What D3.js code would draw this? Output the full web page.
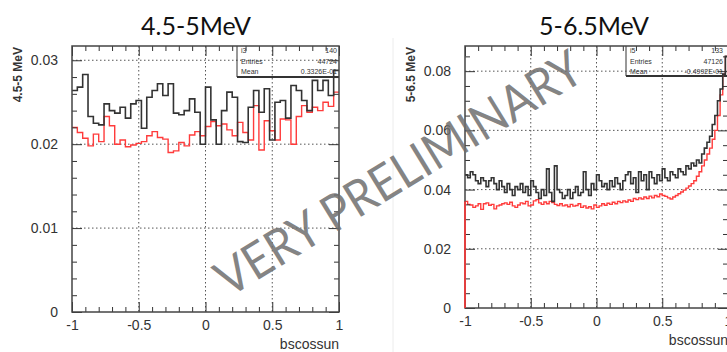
<!DOCTYPE html>
<html>
<head>
<meta charset="utf-8">
<script src="https://cdn.jsdelivr.net/npm/d3@7"></script>
<style>
  body { margin: 0; background: #fff; }
  svg { display: block; }
</style>
</head>
<body>
<div id="chart"></div>
<script>
// bin contents, 50 bins over [-1, 1] for 4.5-5 MeV
const lowBlack = [
  0.0264, 0.0268, 0.0283, 0.0233, 0.0225, 0.0223, 0.0248, 0.0240, 0.0237, 0.0244,
  0.0231, 0.0248, 0.0252, 0.0219, 0.0256, 0.0264, 0.0272, 0.0258, 0.0272, 0.0237,
  0.0235, 0.0240, 0.0254, 0.0238, 0.0200, 0.0268, 0.0229, 0.0200, 0.0240, 0.0262,
  0.0256, 0.0203, 0.0202, 0.0244, 0.0264, 0.0238, 0.0266, 0.0205, 0.0250, 0.0252,
  0.0231, 0.0270, 0.0264, 0.0252, 0.0240, 0.0276, 0.0264, 0.0276, 0.0258, 0.0288
];
const lowRed = [
  0.0220, 0.0214, 0.0207, 0.0198, 0.0212, 0.0203, 0.0233, 0.0222, 0.0200, 0.0205,
  0.0197, 0.0199, 0.0201, 0.0203, 0.0210, 0.0215, 0.0208, 0.0206, 0.0190, 0.0192,
  0.0202, 0.0198, 0.0211, 0.0215, 0.0210, 0.0221, 0.0227, 0.0222, 0.0224, 0.0217,
  0.0210, 0.0226, 0.0214, 0.0205, 0.0246, 0.0193, 0.0228, 0.0216, 0.0205, 0.0230,
  0.0229, 0.0200, 0.0233, 0.0246, 0.0238, 0.0244, 0.0240, 0.0250, 0.0245, 0.0262
];
// 100 bins over [-1, 1] for 5-6.5 MeV
const highBlack = [
  0.045, 0.044, 0.046, 0.045, 0.043, 0.042, 0.044, 0.043, 0.041, 0.043,
  0.044, 0.042, 0.040, 0.043, 0.041, 0.039, 0.042, 0.040, 0.038, 0.041,
  0.040, 0.042, 0.039, 0.041, 0.038, 0.043, 0.041, 0.039, 0.037, 0.040,
  0.038, 0.047, 0.039, 0.036, 0.048, 0.040, 0.039, 0.037, 0.038, 0.040,
  0.037, 0.039, 0.041, 0.038, 0.039, 0.046, 0.040, 0.038, 0.042, 0.040,
  0.045, 0.043, 0.041, 0.042, 0.040, 0.043, 0.041, 0.044, 0.042, 0.040,
  0.043, 0.045, 0.046, 0.042, 0.044, 0.039, 0.046, 0.043, 0.045, 0.040,
  0.046, 0.044, 0.042, 0.045, 0.043, 0.047, 0.044, 0.043, 0.046, 0.045,
  0.044, 0.047, 0.046, 0.045, 0.048, 0.047, 0.049, 0.048, 0.050, 0.049,
  0.052, 0.054, 0.056, 0.058, 0.062, 0.065, 0.070, 0.074, 0.079, 0.085
];
const highRed = [
  0.0360, 0.0350, 0.0348, 0.0340, 0.0345, 0.0352, 0.0333, 0.0352, 0.0355, 0.0347,
  0.0350, 0.0335, 0.0345, 0.0348, 0.0352, 0.0355, 0.0350, 0.0357, 0.0345, 0.0340,
  0.0348, 0.0355, 0.0352, 0.0360, 0.0345, 0.0348, 0.0362, 0.0366, 0.0355, 0.0350,
  0.0358, 0.0352, 0.0360, 0.0356, 0.0350, 0.0346, 0.0352, 0.0345, 0.0348, 0.0342,
  0.0350, 0.0344, 0.0346, 0.0352, 0.0340, 0.0345, 0.0338, 0.0342, 0.0335, 0.0348,
  0.0340, 0.0345, 0.0352, 0.0347, 0.0354, 0.0350, 0.0357, 0.0352, 0.0360, 0.0356,
  0.0362, 0.0358, 0.0365, 0.0360, 0.0370, 0.0366, 0.0372, 0.0368, 0.0375, 0.0370,
  0.0378, 0.0372, 0.0380, 0.0376, 0.0385, 0.0380, 0.0377, 0.0372, 0.0368, 0.0375,
  0.0380, 0.0386, 0.0392, 0.0398, 0.0405, 0.0412, 0.0420, 0.0430, 0.0445, 0.0460,
  0.0480, 0.0500, 0.0520, 0.0540, 0.0570, 0.0600, 0.0650, 0.0720, 0.0790, 0.0850
];

const xMajor = [-1, -0.5, 0, 0.5, 1];
const xGrid = [-0.5, 0, 0.5];
const lowYTicks = [0, 0.01, 0.02, 0.03];
const highYTicks = [0, 0.02, 0.04, 0.06, 0.08];
const lowStats = [['i3', '140'], ['Entries', '44724'], ['Mean', '0.3326E-01']];
const highStats = [['i5', '133'], ['Entries', '47126'], ['Mean', '-0.4992E-01']];

const W = 727, H = 352;
const svg = d3.select('#chart').append('svg').attr('width', W).attr('height', H);

// faint pad border between the two pictures
svg.append('line').attr('x1', 393).attr('x2', 393).attr('y1', 38).attr('y2', H)
  .attr('stroke', '#ececec').attr('stroke-width', 1);

const fmtY = d => (d === 0 ? '0' : d.toFixed(2));

const drawPanel = (opt) => {
  const { left, right, top, bottom, yMax, yTicks, yMinorStep, title, titleX, yTitle, yTitleX,
    black, red, redFromZero, stats, statsBox } = opt;

  const x = d3.scaleLinear().domain([-1, 1]).range([left, right]);
  const y = d3.scaleLinear().domain([0, yMax]).range([bottom, top]);
  const g = svg.append('g');

  // grid
  g.selectAll('.vg').data(xGrid).enter().append('line')
    .attr('x1', d => x(d)).attr('x2', d => x(d)).attr('y1', top).attr('y2', bottom)
    .attr('stroke', '#555').attr('stroke-width', 1).attr('stroke-dasharray', '1.5,2.5');
  g.selectAll('.hg').data(yTicks.filter(d => d > 0)).enter().append('line')
    .attr('x1', left).attr('x2', right).attr('y1', d => y(d)).attr('y2', d => y(d))
    .attr('stroke', '#555').attr('stroke-width', 1).attr('stroke-dasharray', '1.5,2.5');

  // stat box (transparent, grid shows through)
  const sb = g.append('g');
  sb.append('line').attr('x1', statsBox[0]).attr('x2', statsBox[0]).attr('y1', top).attr('y2', statsBox[1])
    .attr('stroke', '#333').attr('stroke-width', 1);
  sb.append('line').attr('x1', statsBox[0]).attr('x2', right).attr('y1', statsBox[1]).attr('y2', statsBox[1])
    .attr('stroke', '#333').attr('stroke-width', 2);
  stats.forEach((row, i) => {
    const ty = top + 7 + i * 10.5;
    sb.append('text').attr('x', statsBox[0] + 4).attr('y', ty).text(row[0])
      .attr('font-family', 'Liberation Sans, Arial').attr('font-size', 7).attr('fill', '#333');
    sb.append('text').attr('x', statsBox[2]).attr('y', ty).attr('text-anchor', 'end').text(row[1])
      .attr('font-family', 'Liberation Sans, Arial').attr('font-size', 7).attr('fill', '#333');
  });

  // histograms as steps
  const n = black.length;
  const edges = d3.range(n + 1).map(i => -1 + (2 * i) / n);
  const step = d3.line().x(d => x(d[0])).y(d => y(d[1])).curve(d3.curveStepAfter);
  const pts = (vals, fromZero) => {
    const p = vals.map((v, i) => [edges[i], v]);
    p.push([1, vals[n - 1]]);
    if (fromZero) p.unshift([-1, 0]);
    return p;
  };
  g.append('path').attr('d', step(pts(red, redFromZero))).attr('fill', 'none')
    .attr('stroke', '#ff3b3b').attr('stroke-width', 1.4);
  g.append('path').attr('d', step(pts(black, false))).attr('fill', 'none')
    .attr('stroke', '#333').attr('stroke-width', 1.6);

  // ticks (inside the frame, ROOT style)
  const xMinor = d3.range(-10, 11).map(i => i / 10).filter(d => !xMajor.includes(d));
  const yMinor = d3.range(0, yMax + 1e-9, yMinorStep).filter(d => !yTicks.some(t => Math.abs(t - d) < 1e-9));
  const axisStyle = sel => {
    sel.select('.domain').remove();
    sel.selectAll('line').attr('stroke', '#333');
    sel.selectAll('text').attr('font-family', 'Liberation Sans, Arial').attr('font-size', 14).attr('fill', '#333');
  };

  g.append('g').attr('transform', `translate(0,${bottom})`)
    .call(d3.axisBottom(x).tickValues(xMajor).tickSize(-10).tickPadding(8).tickFormat(d => String(d)))
    .call(axisStyle);
  g.append('g').attr('transform', `translate(0,${bottom})`)
    .call(d3.axisBottom(x).tickValues(xMinor).tickSize(-5).tickFormat(''))
    .call(axisStyle);
  g.append('g').attr('transform', `translate(0,${top})`)
    .call(d3.axisTop(x).tickValues(xMajor).tickSize(-10).tickFormat(''))
    .call(axisStyle);
  g.append('g').attr('transform', `translate(0,${top})`)
    .call(d3.axisTop(x).tickValues(xMinor).tickSize(-5).tickFormat(''))
    .call(axisStyle);
  g.append('g').attr('transform', `translate(${left},0)`)
    .call(d3.axisLeft(y).tickValues(yTicks).tickSize(-10).tickPadding(14).tickFormat(fmtY))
    .call(axisStyle);
  g.append('g').attr('transform', `translate(${left},0)`)
    .call(d3.axisLeft(y).tickValues(yMinor).tickSize(-5).tickFormat(''))
    .call(axisStyle);
  g.append('g').attr('transform', `translate(${right},0)`)
    .call(d3.axisRight(y).tickValues(yTicks).tickSize(-10).tickFormat(''))
    .call(axisStyle);
  g.append('g').attr('transform', `translate(${right},0)`)
    .call(d3.axisRight(y).tickValues(yMinor).tickSize(-5).tickFormat(''))
    .call(axisStyle);

  // frame
  g.append('rect').attr('x', left).attr('y', top).attr('width', right - left).attr('height', bottom - top)
    .attr('fill', 'none').attr('stroke', '#444').attr('stroke-width', 1.5);

  if (redFromZero) {
    g.append('line').attr('x1', left).attr('x2', left).attr('y1', bottom).attr('y2', y(red[0]))
      .attr('stroke', '#ff3b3b').attr('stroke-width', 1.6);
  }

  // titles
  g.append('text').attr('x', titleX).attr('y', 35).attr('text-anchor', 'middle').text(title)
    .attr('font-family', 'Lato, Open Sans, sans-serif').attr('font-size', 25).attr('fill', '#111');
  g.append('text').attr('transform', `translate(${yTitleX},47) rotate(-90)`).attr('text-anchor', 'end')
    .text(yTitle).attr('font-family', 'Liberation Sans, Arial').attr('font-weight', 'bold')
    .attr('font-size', 12).attr('fill', '#333');
  g.append('text').attr('x', right).attr('y', bottom + 37).attr('text-anchor', 'end').text('bscossun')
    .attr('font-family', 'Liberation Sans, Arial').attr('font-size', 14).attr('fill', '#333');
};

drawPanel({
  left: 72, right: 339, top: 46, bottom: 312, yMax: 0.0317, yTicks: lowYTicks, yMinorStep: 0.002,
  title: '4.5-5MeV', titleX: 196, yTitle: '4.5-5 MeV', yTitleX: 22,
  black: lowBlack, red: lowRed, redFromZero: false, stats: lowStats, statsBox: [237, 77, 337]
});
drawPanel({
  left: 465, right: 728, top: 46, bottom: 308, yMax: 0.0885, yTicks: highYTicks, yMinorStep: 0.005,
  title: '5-6.5MeV', titleX: 594, yTitle: '5-6.5 MeV', yTitleX: 415,
  black: highBlack, red: highRed, redFromZero: true, stats: highStats, statsBox: [626, 76, 723]
});

// watermark
svg.append('text')
  .attr('transform', 'translate(398,172) rotate(-31.5)')
  .attr('text-anchor', 'middle').attr('dominant-baseline', 'central')
  .attr('font-family', 'Lato, Open Sans, sans-serif').attr('font-size', 50)
  .attr('textLength', 420).attr('lengthAdjust', 'spacingAndGlyphs')
  .attr('fill', '#6e6e6e').attr('fill-opacity', 0.85)
  .text('VERY PRELIMINARY');
</script>
</body>
</html>
